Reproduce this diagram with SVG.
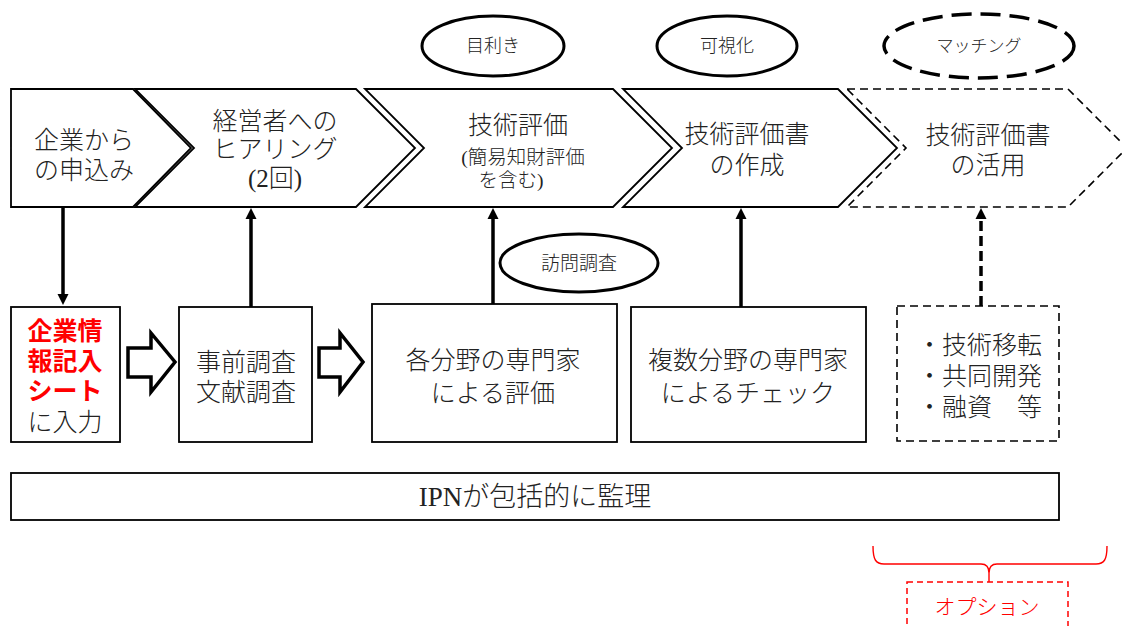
<svg xmlns="http://www.w3.org/2000/svg" width="1122" height="626" viewBox="0 0 1122 626">
<style>
text{font-family:"Liberation Serif","Noto Sans CJK JP",serif;fill:#222;text-anchor:middle;dominant-baseline:central;font-weight:300}
.t25{font-size:25px}
.t18{font-size:18px}
.t19{font-size:19.5px}
.shape{fill:#fff;stroke:#000;stroke-width:1.8}
.dash{fill:#fff;stroke:#000;stroke-width:1.6;stroke-dasharray:8 5}
.ell{fill:#fff;stroke:#000;stroke-width:3}
.conn{stroke:#000;stroke-width:3.5;fill:none}
.red{fill:#f00}
.redb{fill:#f00;font-weight:bold}
</style>
<defs>
<marker id="ah" viewBox="0 0 10 10" refX="0" refY="5" markerUnits="userSpaceOnUse" markerWidth="11" markerHeight="12" orient="auto">
<path d="M0,0 L10,5 L0,10 Z" fill="#000"/>
</marker>
</defs>

<g id="step1">
<path class="shape" d="M11,89 L133,89 L191,148 L133,207 L11,207 Z"/>
<text class="t25" x="84" y="140">企業から</text>
<text class="t25" x="84" y="170">の申込み</text>
</g>
<g id="step2">
<path class="shape" d="M135,89 L356,89 L415,148 L356,207 L135,207 L194,148 Z"/>
<text class="t25" x="275" y="121">経営者への</text>
<text class="t25" x="275" y="149">ヒアリング</text>
<text class="t25" x="275" y="178">(2回)</text>
</g>
<g id="step3">
<path class="shape" d="M365,89 L613,89 L672,148 L613,207 L365,207 L424,148 Z"/>
<text class="t25" x="518" y="125">技術評価</text>
<text class="t19" x="523" y="157">(簡易知財評価</text>
<text class="t19" x="511" y="180">を含む)</text>
</g>
<g id="step4">
<path class="shape" d="M623,89 L838,89 L897,148 L838,207 L623,207 L682,148 Z"/>
<text class="t25" x="747" y="134">技術評価書</text>
<text class="t25" x="747" y="165">の作成</text>
</g>
<g id="step5">
<path class="dash" d="M847,89 L1068,89 L1127,148 L1068,207 L847,207 L906,148 Z"/>
<text class="t25" x="988" y="135">技術評価書</text>
<text class="t25" x="988" y="165">の活用</text>
</g>

<g id="tag-mekiki">
<ellipse class="ell" cx="493" cy="46" rx="71" ry="30"/>
<text class="t18" x="493" y="46">目利き</text>
</g>
<g id="tag-kashika">
<ellipse class="ell" cx="727" cy="46" rx="70" ry="30"/>
<text class="t18" x="727" y="46">可視化</text>
</g>
<g id="tag-matching">
<ellipse cx="979" cy="46" rx="95" ry="32" fill="#fff" stroke="#000" stroke-width="3.5" stroke-dasharray="20 9"/>
<text x="979" y="46" style="font-size:17px">マッチング</text>
</g>
<g id="tag-houmon">
<ellipse class="ell" cx="579" cy="263" rx="79" ry="29"/>
<text x="579" y="263" style="font-size:19px">訪問調査</text>
</g>

<g id="box1">
<rect class="shape" x="11" y="307" width="109" height="135"/>
<text class="t25 redb" x="65" y="331">企業情</text>
<text class="t25 redb" x="65" y="361">報記入</text>
<text class="t25 redb" x="65" y="391">シート</text>
<text class="t25" x="65" y="422">に入力</text>
</g>
<g id="box2">
<rect class="shape" x="179" y="307" width="133" height="135"/>
<text class="t25" x="246" y="362">事前調査</text>
<text class="t25" x="246" y="392">文献調査</text>
</g>
<g id="box3">
<rect class="shape" x="372" y="304" width="245" height="138"/>
<text class="t25" x="493" y="360">各分野の専門家</text>
<text class="t25" x="493" y="393">による評価</text>
</g>
<g id="box4">
<rect class="shape" x="631" y="307" width="235" height="135"/>
<text class="t25" x="748" y="360">複数分野の専門家</text>
<text class="t25" x="748" y="393">によるチェック</text>
</g>
<g id="box5">
<rect class="dash" x="897" y="306" width="162" height="135"/>
<text class="t25" x="917" y="345" style="text-anchor:start">・技術移転</text>
<text class="t25" x="917" y="376" style="text-anchor:start">・共同開発</text>
<text class="t25" x="917" y="407" style="text-anchor:start">・融資　等</text>
</g>

<g id="ipn">
<rect class="shape" x="11" y="473" width="1048" height="47"/>
<text x="535" y="497" style="font-size:27px">IPNが包括的に監理</text>
</g>

<g id="option">
<path d="M873,546 C873,560 876,564 884,564 L981,564 C987,564 989,567 989,573 L989,582 M989,573 C989,567 991,564 997,564 L1096,564 C1104,564 1107,560 1107,546" fill="none" stroke="#f00" stroke-width="1.4"/>
<rect x="907" y="582" width="161" height="60" fill="none" stroke="#f00" stroke-width="1.5" stroke-dasharray="6 4"/>
<text class="red" x="987" y="607" style="font-size:21px">オプション</text>
</g>

<g id="connectors">
<line class="conn" x1="63" y1="207" x2="63" y2="294" marker-end="url(#ah)"/>
<line class="conn" x1="251" y1="307" x2="251" y2="219" marker-end="url(#ah)"/>
<line class="conn" x1="493" y1="304" x2="493" y2="219" marker-end="url(#ah)"/>
<line class="conn" x1="741" y1="307" x2="741" y2="219" marker-end="url(#ah)"/>
<line class="conn" x1="981" y1="306" x2="981" y2="219" stroke-dasharray="10 5" marker-end="url(#ah)"/>
<polygon points="128,348 151,348 151,333 175,362 151,392 151,377 128,377" fill="#fff" stroke="#000" stroke-width="3.5"/>
<polygon points="319,348 340,348 340,333 363,362 340,392 340,377 319,377" fill="#fff" stroke="#000" stroke-width="3.5"/>
</g>
</svg>
